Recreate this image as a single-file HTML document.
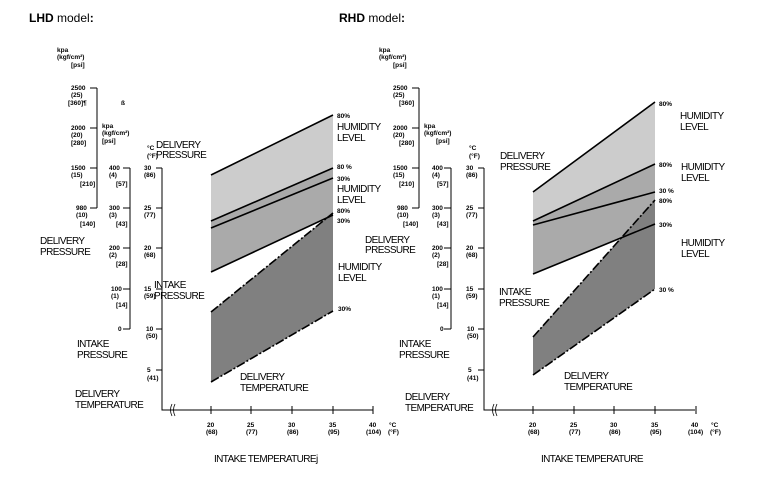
<!DOCTYPE html>
<html><head><meta charset="utf-8"><style>
html,body{margin:0;padding:0;background:#fff}
svg{display:block}
.t{font-family:"Liberation Sans",sans-serif;font-size:6.5px;font-weight:bold;fill:#000}
.L{font-family:"Liberation Sans",sans-serif;font-size:10px;fill:#000;letter-spacing:-0.6px}
.H{font-family:"Liberation Sans",sans-serif;font-size:12px;fill:#000}
</style></head><body>
<svg width="768" height="488" viewBox="0 0 768 488" xmlns="http://www.w3.org/2000/svg">
<!-- LHD -->
<text class="H" x="29" y="22"><tspan font-weight="bold">LHD</tspan> model<tspan font-weight="bold">:</tspan></text>
<g stroke="#000" stroke-width="1" fill="none">
<path d="M97,88V208M90,88H97M90,128H97M90,168H97M90,208H97"/>
<path d="M130,168V329M123,168H130M123,208H130M123,248H130M123,289H130M123,329H130"/>
<path d="M162,168V410H373M156,168H162M156,208H162M156,248H162M156,289H162M156,329H162M156,370H162"/>
<path d="M211,406V414M251,406V414M292,406V414M333,406V414M373,406V414"/>
<path d="M172,404q-3,6 0,12M175,404q-3,6 0,12" stroke-width="0.8"/>
</g>
<polygon points="211,175 333,115 333,168 211,221" fill="#cccccc"/>
<polygon points="211,221 333,168 333,215 211,272" fill="#aaaaaa"/>
<polygon points="211,312 333,213 333,311 211,382" fill="#808080"/>
<g stroke="#000" stroke-width="1.6" fill="none">
<path d="M211,175L333,115M211,221L333,168M211,228L333,178M211,272L333,215"/>
<path d="M211,312L333,213M211,382L333,311" stroke-dasharray="9,2,2,2"/>
</g>
<g class="t">
<text x="57" y="52">kpa</text><text x="57" y="59">(kgf/cm²)</text><text x="71" y="67">[psi]</text>
<text x="71" y="90">2500</text><text x="71" y="97">(25)</text><text x="68" y="105">[360]¶</text><text x="121" y="105">ß</text>
<text x="71" y="130">2000</text><text x="71" y="137">(20)</text><text x="71" y="145">[280]</text>
<text x="71" y="170">1500</text><text x="71" y="177">(15)</text><text x="80" y="186">[210]</text>
<text x="76" y="210">980</text><text x="76" y="217">(10)</text><text x="80" y="226">[140]</text>
<text x="102" y="128">kpa</text><text x="102" y="135">(kgf/cm²)</text><text x="102" y="143">[psi]</text>
<text x="109" y="170">400</text><text x="109" y="177">(4)</text><text x="116" y="186">[57]</text>
<text x="109" y="210">300</text><text x="109" y="217">(3)</text><text x="116" y="226">[43]</text>
<text x="109" y="250">200</text><text x="109" y="257">(2)</text><text x="116" y="266">[28]</text>
<text x="111" y="291">100</text><text x="111" y="298">(1)</text><text x="116" y="307">[14]</text>
<text x="118" y="331">0</text>
<text x="147" y="150">°C</text><text x="147" y="158">(°F)</text>
<text x="144" y="170">30</text><text x="144" y="177">(86)</text>
<text x="144" y="210">25</text><text x="144" y="217">(77)</text>
<text x="144" y="250">20</text><text x="144" y="257">(68)</text>
<text x="144" y="291">15</text><text x="144" y="298">(59)</text>
<text x="146" y="331">10</text><text x="146" y="338">(50)</text>
<text x="147" y="372">5</text><text x="147" y="380">(41)</text>
<text x="207" y="427">20</text><text x="206" y="434">(68)</text>
<text x="247" y="427">25</text><text x="246" y="434">(77)</text>
<text x="288" y="427">30</text><text x="287" y="434">(86)</text>
<text x="329" y="427">35</text><text x="328" y="434">(95)</text>
<text x="369" y="427">40</text><text x="366" y="434">(104)</text>
<text x="389" y="427">°C</text><text x="388" y="434">(°F)</text>
<text x="337" y="118">80%</text><text x="337" y="169">80 %</text><text x="337" y="181">30%</text>
<text x="337" y="213">80%</text><text x="337" y="223">30%</text><text x="338" y="311">30%</text>
</g>
<g class="L">
<text x="337" y="130">HUMIDITY</text><text x="337" y="141">LEVEL</text>
<text x="337" y="192">HUMIDITY</text><text x="337" y="203">LEVEL</text>
<text x="338" y="270">HUMIDITY</text><text x="338" y="281">LEVEL</text>
<text x="156" y="148">DELIVERY</text><text x="156" y="158">PRESSURE</text>
<text x="40" y="244">DELIVERY</text><text x="40" y="255">PRESSURE</text>
<text x="154" y="288">INTAKE</text><text x="154" y="299">PRESSURE</text>
<text x="77" y="347">INTAKE</text><text x="77" y="358">PRESSURE</text>
<text x="75" y="397">DELIVERY</text><text x="75" y="408">TEMPERATURE</text>
<text x="240" y="380">DELIVERY</text><text x="240" y="391">TEMPERATURE</text>
<text x="214" y="462">INTAKE TEMPERATUREj</text>
</g>

<!-- RHD -->
<text class="H" x="339" y="22"><tspan font-weight="bold">RHD</tspan> model<tspan font-weight="bold">:</tspan></text>
<g stroke="#000" stroke-width="1" fill="none">
<path d="M419,88V208M412,88H419M412,128H419M412,168H419M412,208H419"/>
<path d="M451,168V329M444,168H451M444,208H451M444,248H451M444,289H451M444,329H451"/>
<path d="M484,168V410H695M478,168H484M478,208H484M478,248H484M478,289H484M478,329H484M478,370H484"/>
<path d="M533,406V414M574,406V414M614,406V414M655,406V414M696,406V414"/>
<path d="M494,404q-3,6 0,12M497,404q-3,6 0,12" stroke-width="0.8"/>
</g>
<polygon points="533,192 655,102 655,164 533,221" fill="#cccccc"/>
<polygon points="533,221 655,164 655,224 533,274" fill="#aaaaaa"/>
<polygon points="533,337 655,200 655,289 533,375" fill="#808080"/>
<g stroke="#000" stroke-width="1.6" fill="none">
<path d="M533,192L655,102M533,221L655,164M533,225L655,192M533,274L655,224"/>
<path d="M533,337L655,200M533,375L655,289" stroke-dasharray="9,2,2,2"/>
</g>
<g class="t">
<text x="379" y="52">kpa</text><text x="379" y="59">(kgf/cm²)</text><text x="393" y="67">[psi]</text>
<text x="393" y="90">2500</text><text x="393" y="97">(25)</text><text x="399" y="105">[360]</text>
<text x="393" y="130">2000</text><text x="393" y="137">(20)</text><text x="399" y="145">[280]</text>
<text x="393" y="170">1500</text><text x="393" y="177">(15)</text><text x="399" y="186">[210]</text>
<text x="397" y="210">980</text><text x="397" y="217">(10)</text><text x="403" y="226">[140]</text>
<text x="424" y="128">kpa</text><text x="424" y="135">(kgf/cm²)</text><text x="436" y="143">[psi]</text>
<text x="432" y="170">400</text><text x="432" y="177">(4)</text><text x="437" y="186">[57]</text>
<text x="432" y="210">300</text><text x="432" y="217">(3)</text><text x="437" y="226">[43]</text>
<text x="432" y="250">200</text><text x="432" y="257">(2)</text><text x="437" y="266">[28]</text>
<text x="432" y="291">100</text><text x="432" y="298">(1)</text><text x="437" y="307">[14]</text>
<text x="440" y="331">0</text>
<text x="469" y="150">°C</text><text x="469" y="158">(°F)</text>
<text x="466" y="170">30</text><text x="466" y="177">(86)</text>
<text x="466" y="210">25</text><text x="466" y="217">(77)</text>
<text x="466" y="250">20</text><text x="466" y="257">(68)</text>
<text x="466" y="291">15</text><text x="466" y="298">(59)</text>
<text x="467" y="331">10</text><text x="467" y="338">(50)</text>
<text x="468" y="372">5</text><text x="467" y="380">(41)</text>
<text x="529" y="427">20</text><text x="528" y="434">(68)</text>
<text x="570" y="427">25</text><text x="569" y="434">(77)</text>
<text x="610" y="427">30</text><text x="609" y="434">(86)</text>
<text x="651" y="427">35</text><text x="650" y="434">(95)</text>
<text x="691" y="427">40</text><text x="688" y="434">(104)</text>
<text x="711" y="427">°C</text><text x="710" y="434">(°F)</text>
<text x="659" y="106">80%</text><text x="659" y="167">80%</text><text x="659" y="193">30 %</text>
<text x="659" y="203">80%</text><text x="659" y="227">30%</text><text x="659" y="292">30 %</text>
</g>
<g class="L">
<text x="680" y="119">HUMIDITY</text><text x="680" y="130">LEVEL</text>
<text x="681" y="170">HUMIDITY</text><text x="681" y="181">LEVEL</text>
<text x="681" y="246">HUMIDITY</text><text x="681" y="257">LEVEL</text>
<text x="500" y="159">DELIVERY</text><text x="500" y="170">PRESSURE</text>
<text x="365" y="243">DELIVERY</text><text x="365" y="253">PRESSURE</text>
<text x="499" y="295">INTAKE</text><text x="499" y="306">PRESSURE</text>
<text x="399" y="347">INTAKE</text><text x="399" y="358">PRESSURE</text>
<text x="405" y="400">DELIVERY</text><text x="405" y="411">TEMPERATURE</text>
<text x="564" y="379">DELIVERY</text><text x="564" y="390">TEMPERATURE</text>
<text x="541" y="462">INTAKE TEMPERATURE</text>
</g>
</svg>
</body></html>
